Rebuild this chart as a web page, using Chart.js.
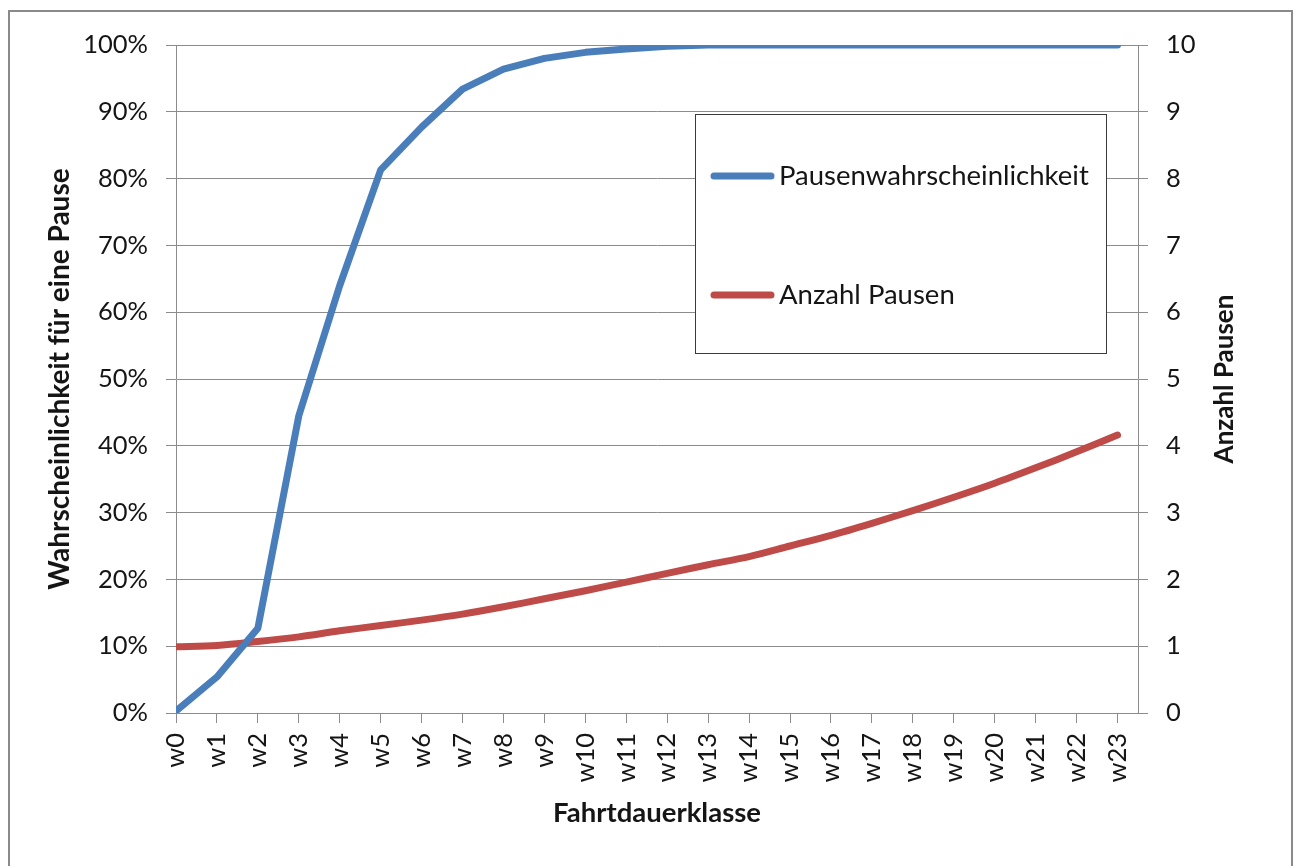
<!DOCTYPE html>
<html>
<head>
<meta charset="utf-8">
<script src="https://cdn.jsdelivr.net/npm/chart.js@4/dist/chart.umd.min.js"></script>
<style>
  html, body { margin: 0; padding: 0; background: #ffffff; }
  canvas { display: block; }
</style>
</head>
<body>
<canvas id="chart" width="1298" height="866"></canvas>
<script>
// Fahrtdauerklassen w0 … w23
const categories = ['w0','w1','w2','w3','w4','w5','w6','w7','w8','w9','w10','w11',
                    'w12','w13','w14','w15','w16','w17','w18','w19','w20','w21','w22','w23'];

// Wahrscheinlichkeit für eine Pause in %
const pausenwahrscheinlichkeit = [0.3, 5.4, 12.7, 44.5, 64.0, 81.3, 87.7, 93.4, 96.4, 98.0, 98.9, 99.4,
                                  99.8, 100, 100, 100, 100, 100, 100, 100, 100, 100, 100, 100];

// Anzahl Pausen je Klasse
const anzahlPausen = [0.99, 1.01, 1.07, 1.14, 1.23, 1.31, 1.39, 1.48, 1.59, 1.71, 1.83, 1.96,
                      2.09, 2.22, 2.34, 2.50, 2.66, 2.84, 3.03, 3.23, 3.44, 3.67, 3.91, 4.16];

const seriesNames = ['Pausenwahrscheinlichkeit', 'Anzahl Pausen'];
const axisTitles = {
  left: 'Wahrscheinlichkeit für eine Pause',
  right: 'Anzahl Pausen',
  bottom: 'Fahrtdauerklasse'
};

const BLUE = '#4A7EBB';
const RED = '#BE4B48';
const GRID = '#8c8c8c';
const TEXT = '#151515';
const FONT = 'Lato';

Chart.defaults.font.family = FONT;
Chart.defaults.font.size = 25;
Chart.defaults.color = TEXT;

const toPoints = vals => vals.map((v, i) => ({ x: i, y: v }));

// Outer frame, right-hand axis title and the boxed legend
const decorations = {
  id: 'decorations',
  beforeDraw(chart) {
    const ctx = chart.ctx;
    ctx.save();
    ctx.fillStyle = '#ffffff';
    ctx.fillRect(0, 0, chart.width, chart.height);
    ctx.strokeStyle = '#8a8a8a';
    ctx.lineWidth = 2;
    ctx.strokeRect(9, 11, 1283, 900);
    ctx.restore();
  },
  afterDraw(chart) {
    const ctx = chart.ctx;
    const area = chart.chartArea;
    ctx.save();

    // right axis title, reading bottom to top
    ctx.font = 'bold 26px ' + FONT;
    ctx.fillStyle = TEXT;
    ctx.textAlign = 'center';
    ctx.textBaseline = 'middle';
    ctx.translate(1225, (area.top + area.bottom) / 2);
    ctx.rotate(-Math.PI / 2);
    ctx.fillText(axisTitles.right, 0, 0);
    ctx.setTransform(1, 0, 0, 1, 0, 0);

    // legend box
    const box = { x: 695.5, y: 114.5, w: 411, h: 239 };
    ctx.fillStyle = '#ffffff';
    ctx.fillRect(box.x, box.y, box.w, box.h);
    ctx.strokeStyle = '#3a3a3a';
    ctx.lineWidth = 1;
    ctx.strokeRect(box.x, box.y, box.w, box.h);

    const rowsY = [176, 295];
    chart.data.datasets.forEach((ds, i) => {
      const y = rowsY[i];
      ctx.strokeStyle = ds.borderColor;
      ctx.lineWidth = 7;
      ctx.lineCap = 'round';
      ctx.beginPath();
      ctx.moveTo(714, y);
      ctx.lineTo(771, y);
      ctx.stroke();
      ctx.font = '27.5px ' + FONT;
      ctx.fillStyle = TEXT;
      ctx.textAlign = 'left';
      ctx.textBaseline = 'middle';
      ctx.fillText(ds.label, 779, y);
    });
    ctx.restore();
  }
};

new Chart(document.getElementById('chart'), {
  type: 'line',
  data: {
    datasets: [
      {
        label: seriesNames[0],
        data: toPoints(pausenwahrscheinlichkeit),
        yAxisID: 'yLeft',
        borderColor: BLUE,
        backgroundColor: BLUE,
        borderWidth: 7,
        borderCapStyle: 'round',
        borderJoinStyle: 'round',
        pointRadius: 0,
        tension: 0
      },
      {
        label: seriesNames[1],
        data: toPoints(anzahlPausen),
        yAxisID: 'yRight',
        borderColor: RED,
        backgroundColor: RED,
        borderWidth: 7,
        borderCapStyle: 'round',
        borderJoinStyle: 'round',
        pointRadius: 0,
        tension: 0.3
      }
    ]
  },
  options: {
    responsive: false,
    animation: false,
    devicePixelRatio: 1,
    layout: { padding: { top: 45, left: 0, right: 0, bottom: 0 } },
    plugins: {
      legend: { display: false },
      tooltip: { enabled: false }
    },
    scales: {
      x: {
        type: 'linear',
        position: 'bottom',
        min: 0,
        max: categories.length - 0.5,
        afterFit(scale) { scale.height = 153; },
        grid: {
          drawOnChartArea: false,
          color: GRID,
          tickLength: 10,
          lineWidth: 1
        },
        border: { color: GRID, width: 1 },
        ticks: {
          stepSize: 1,
          includeBounds: false,
          autoSkip: false,
          minRotation: 90,
          maxRotation: 90,
          padding: 10,
          color: TEXT,
          font: { size: 25.5 },
          callback: v => categories[v] ?? ''
        },
        title: {
          display: true,
          text: axisTitles.bottom,
          color: TEXT,
          font: { size: 27.5, weight: 'bold' },
          padding: { top: 0, bottom: 36 }
        }
      },
      yLeft: {
        type: 'linear',
        position: 'left',
        min: 0,
        max: 100,
        afterFit(scale) { scale.width = 176; },
        grid: {
          color: GRID,
          tickLength: 10,
          lineWidth: 1
        },
        border: { color: GRID, width: 1 },
        ticks: {
          stepSize: 10,
          padding: 18,
          color: TEXT,
          font: { size: 25.5 },
          callback: v => v + '%'
        },
        title: {
          display: true,
          text: axisTitles.left,
          color: TEXT,
          font: { size: 28, weight: 'bold' },
          padding: { top: 43, bottom: 0 }
        }
      },
      yRight: {
        type: 'linear',
        position: 'right',
        min: 0,
        max: 10,
        afterFit(scale) { scale.width = 160; },
        grid: {
          drawOnChartArea: false,
          color: GRID,
          tickLength: 10,
          lineWidth: 1
        },
        border: { color: GRID, width: 1 },
        ticks: {
          stepSize: 1,
          padding: 18,
          color: TEXT,
          font: { size: 25.5 }
        }
      }
    }
  },
  plugins: [decorations]
});
</script>
</body>
</html>
